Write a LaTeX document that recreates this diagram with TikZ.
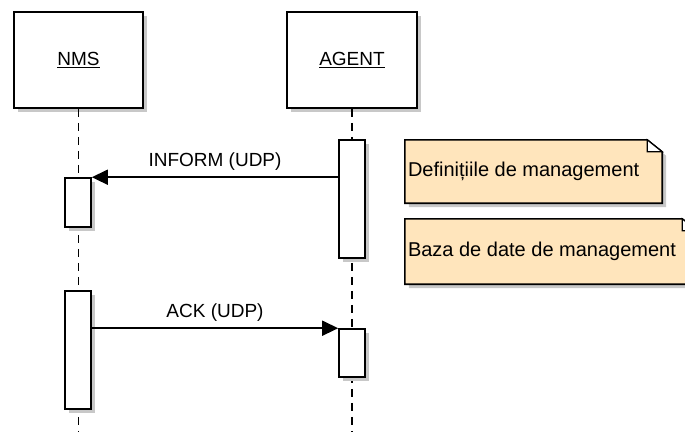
\documentclass[tikz,border=0pt]{standalone}
\usepackage{fontspec}
\setmainfont{Liberation Sans}
\usetikzlibrary{shadows,arrows.meta}
\begin{document}
\definecolor{notefill}{RGB}{255,229,188}
\definecolor{shadowgray}{RGB}{200,200,200}
\tikzset{
  shade3/.style={drop shadow={shadow xshift=4pt, shadow yshift=-4pt, fill=shadowgray, opacity=1}},
  lifebox/.style={draw=black, line width=1.6pt, fill=white, shade3, rectangle, inner sep=0,
    minimum width=129pt, minimum height=96pt, font=\fontsize{19}{22}\selectfont},
  actbox/.style={draw=black, line width=1.6pt, fill=white, shade3, rectangle, inner sep=0,
    minimum width=26pt},
  lifeline/.style={draw=black, line width=1.6pt, dash pattern=on 8pt off 6pt},
  msg/.style={draw=black, line width=1.6pt, -{Triangle[length=16pt, width=15pt]}},
  msglabel/.style={font=\fontsize{19}{22}\selectfont, inner sep=0},
  noteshape/.style={draw=black, line width=1.6pt, fill=notefill, shade3},
  notenode/.style={rectangle, inner sep=0, draw=none},
  notetext/.style={font=\fontsize{20}{23}\selectfont, inner sep=0, anchor=west}
}
\begin{tikzpicture}[x=1pt, y=-1pt]
\clip (0,0) rectangle (685,432);
\coordinate (bot) at (0,432);

% participants
\node[lifebox] (nms) at (78.5,60) {\underline{NMS}};
\node[lifebox, minimum width=130pt] (agent) at (352,60) {\underline{AGENT}};

% lifelines
\draw[lifeline] (nms.south) -- (nms.south |- bot);
\draw[lifeline] (agent.south) -- (agent.south |- bot);

% activations
\node[actbox, minimum height=118pt] (agA1) at (352,199) {};
\node[actbox, minimum height=49pt] (nmsA1) at (78,202.5) {};
\node[actbox, minimum height=118pt] (nmsA2) at (78,350) {};
\node[actbox, minimum height=48pt] (agA2) at (352,353) {};

% messages
\draw[msg] (agA1.west |- nmsA1.north) -- (nmsA1.north east)
  node[msglabel, midway, above=6pt] (lblInform) {INFORM (UDP)};
\draw[msg] (nmsA2.east |- agA2.north) -- (agA2.north west)
  node[msglabel, midway, above=6pt] (lblAck) {ACK (UDP)};

% notes
\node[notenode, minimum width=257pt, minimum height=63pt] (note1) at (533.5,171.5) {};
\node[notenode, minimum width=292pt, minimum height=65pt] (note2) at (551,251.5) {};
\foreach \n in {note1,note2}{
  \path[noteshape] (\n.north west) -- ([xshift=-15pt]\n.north east)
    -- ([yshift=-12pt]\n.north east) -- (\n.south east) -- (\n.south west) -- cycle;
  \draw[black, line width=1.2pt, fill=white] ([xshift=-15pt]\n.north east)
    -- ([xshift=-15pt,yshift=-12pt]\n.north east) -- ([yshift=-12pt]\n.north east) -- cycle;
}
\node[notetext] (txt1) at ([xshift=3pt]note1.west) {Definițiile de management};
\node[notetext] (txt2) at ([xshift=3pt]note2.west) {Baza de date de management};
\end{tikzpicture}
\end{document}
